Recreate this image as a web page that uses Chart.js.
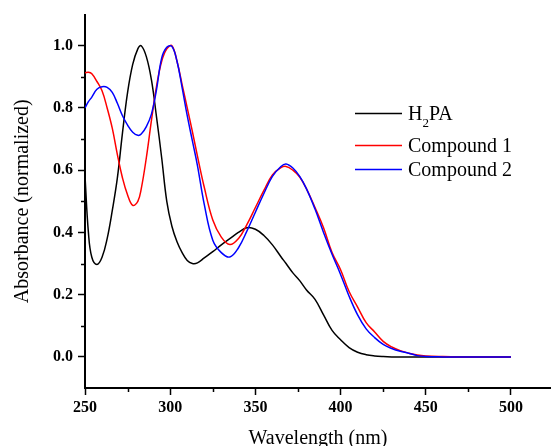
<!DOCTYPE html>
<html>
<head>
<meta charset="utf-8">
<script src="https://cdn.jsdelivr.net/npm/chart.js@4/dist/chart.umd.min.js"></script>
<style>
  html, body { margin: 0; padding: 0; background: #fff; }
  #chart { display: block; }
</style>
</head>
<body>
<canvas id="chart" width="551" height="446"></canvas>
<script>
// ── Data ─────────────────────────────────────────────────
const wavelengths = [
  250, 252, 254, 257, 260,
  263, 266, 269, 272, 275,
  278, 281, 283, 286, 289,
  292, 295, 298, 301, 304,
  307, 310, 313, 316, 320,
  325, 330, 335, 340, 345,
  350, 355, 360, 365, 368,
  372, 376, 380, 385, 390,
  395, 400, 405, 410, 415,
  420, 425, 430, 435, 440,
  445, 450, 460, 470, 480,
  490, 500,
];

const h2paAbs = [
  0.58, 0.40, 0.32, 0.297, 0.32,
  0.38, 0.47, 0.575, 0.72, 0.85,
  0.94, 0.99, 1.0, 0.965, 0.89,
  0.77, 0.64, 0.50, 0.42, 0.37,
  0.335, 0.31, 0.30, 0.302, 0.318,
  0.338, 0.36, 0.38, 0.40, 0.415,
  0.41, 0.39, 0.36, 0.322, 0.30,
  0.27, 0.245, 0.215, 0.185, 0.135,
  0.085, 0.055, 0.03, 0.015, 0.007,
  0.003, 0.001, 0, 0, 0,
  0, 0, 0, 0, 0,
  0, 0,
];

const compound1Abs = [
  0.913, 0.915, 0.91, 0.885, 0.855,
  0.80, 0.735, 0.65, 0.575, 0.52,
  0.487, 0.50, 0.54, 0.64, 0.76,
  0.87, 0.95, 0.99, 1.0, 0.95,
  0.875, 0.80, 0.725, 0.645, 0.545,
  0.44, 0.385, 0.361, 0.38, 0.425,
  0.48, 0.535, 0.585, 0.608, 0.612,
  0.60, 0.578, 0.54, 0.48, 0.415,
  0.335, 0.28, 0.21, 0.16, 0.11,
  0.08, 0.05, 0.032, 0.02, 0.012,
  0.006, 0.003, 0.001, 0, 0,
  0, 0,
];

const compound2Abs = [
  0.80, 0.82, 0.835, 0.86, 0.868,
  0.866, 0.85, 0.815, 0.775, 0.745,
  0.722, 0.712, 0.716, 0.74, 0.78,
  0.86, 0.96, 0.995, 0.998, 0.95,
  0.865, 0.775, 0.695, 0.615, 0.49,
  0.375, 0.335, 0.321, 0.35, 0.404,
  0.465, 0.525, 0.58, 0.612, 0.62,
  0.607, 0.58, 0.54, 0.475, 0.40,
  0.33, 0.265, 0.195, 0.135, 0.09,
  0.062, 0.04, 0.027, 0.018, 0.012,
  0.004, 0.001, 0, 0, 0,
  0, 0,
];

const xMajorTicks = [250, 300, 350, 400, 450, 500];
const xMinorTicks = [275, 325, 375, 425, 475];
const yMajorTicks = [0, 0.2, 0.4, 0.6, 0.8, 1.0];
const yMinorTicks = [0.1, 0.3, 0.5, 0.7, 0.9];

const seriesNames = ['H2PA', 'Compound 1', 'Compound 2'];
const seriesColors = ['#000000', '#ff0000', '#0000ff'];

(() => {
  'use strict';

  const SERIF = "'Liberation Serif', 'Times New Roman', serif";
  Chart.defaults.font.family = SERIF;
  Chart.defaults.color = '#000';

  const toPoints = ys => wavelengths.map((w, i) => ({ x: w, y: ys[i] }));

  // ── Minor ticks (half length, drawn on the library's scales) ──
  const minorTicks = {
    id: 'minorTicks',
    afterDraw(chart) {
      const { ctx, scales: { x, y } } = chart;
      ctx.save();
      ctx.strokeStyle = '#000';
      ctx.lineWidth = 1.5;
      ctx.beginPath();
      xMinorTicks.forEach(v => {
        const px = Math.round(x.getPixelForValue(v)) + 0.5;
        ctx.moveTo(px, x.top);
        ctx.lineTo(px, x.top + 4);
      });
      yMinorTicks.forEach(v => {
        const py = Math.round(y.getPixelForValue(v)) + 0.5;
        ctx.moveTo(y.right, py);
        ctx.lineTo(y.right - 4, py);
      });
      ctx.stroke();
      ctx.restore();
    },
  };

  // ── Legend (H2PA needs a subscript, so it's drawn by hand) ──
  const legendBox = {
    id: 'legendBox',
    afterDraw(chart) {
      const { ctx } = chart;
      const rows = [113, 145, 169];
      const x0 = 355, x1 = 402, tx = 408;
      ctx.save();
      rows.forEach((ly, i) => {
        ctx.strokeStyle = seriesColors[i];
        ctx.lineWidth = 1.5;
        ctx.beginPath();
        ctx.moveTo(x0, ly + 0.5);
        ctx.lineTo(x1, ly + 0.5);
        ctx.stroke();

        ctx.fillStyle = '#000';
        ctx.textBaseline = 'alphabetic';
        ctx.textAlign = 'left';
        const base = ly + 7;
        if (i === 0) {
          const name = seriesNames[0];
          ctx.font = `20px ${SERIF}`;
          ctx.fillText(name[0], tx, base);
          let cx = tx + ctx.measureText(name[0]).width;
          ctx.font = `13px ${SERIF}`;
          ctx.fillText(name[1], cx, base + 7);
          cx += ctx.measureText(name[1]).width;
          ctx.font = `20px ${SERIF}`;
          ctx.fillText(name.slice(2), cx, base);
        } else {
          ctx.font = `20px ${SERIF}`;
          ctx.fillText(seriesNames[i], tx, base);
        }
      });
      ctx.restore();
    },
  };

  const axisBase = {
    border: { color: '#000', width: 2 },
    grid: { drawOnChartArea: false, tickLength: 7, tickWidth: 1.5, tickColor: '#000' },
  };

  new Chart(document.getElementById('chart'), {
    type: 'line',
    data: {
      datasets: seriesNames.map((name, i) => ({
        label: name,
        data: toPoints([h2paAbs, compound1Abs, compound2Abs][i]),
        borderColor: seriesColors[i],
        borderWidth: 1.5,
        pointRadius: 0,
        tension: 0.4,
        order: 2 - i,
      })),
    },
    options: {
      responsive: false,
      animation: false,
      layout: { padding: { top: 13, right: 0, left: 0, bottom: 0 } },
      plugins: {
        legend: { display: false },
        tooltip: { enabled: false },
      },
      scales: {
        x: {
          ...axisBase,
          type: 'linear',
          min: 250,
          max: 523.5,
          afterBuildTicks: s => { s.ticks = xMajorTicks.map(v => ({ value: v })); },
          afterFit: s => { s.height = 58; },
          ticks: { color: '#000', font: { size: 16, weight: 'bold' }, padding: 3, maxRotation: 0 },
          title: {
            display: true, text: 'Wavelength (nm)', color: '#000',
            font: { size: 20 }, padding: { top: 0, bottom: -5 },
          },
        },
        y: {
          ...axisBase,
          min: -0.1,
          max: 1.1,
          afterBuildTicks: s => { s.ticks = yMajorTicks.map(v => ({ value: v })); },
          afterFit: s => { s.width = 85; },
          ticks: {
            color: '#000', font: { size: 16, weight: 'bold' }, padding: 5,
            callback: v => Number(v).toFixed(1),
          },
          title: {
            display: true, text: 'Absorbance (normalized)', color: '#000',
            font: { size: 20 }, padding: { top: 11, bottom: 0 },
          },
        },
      },
    },
    plugins: [minorTicks, legendBox],
  });
})();
</script>
</body>
</html>
